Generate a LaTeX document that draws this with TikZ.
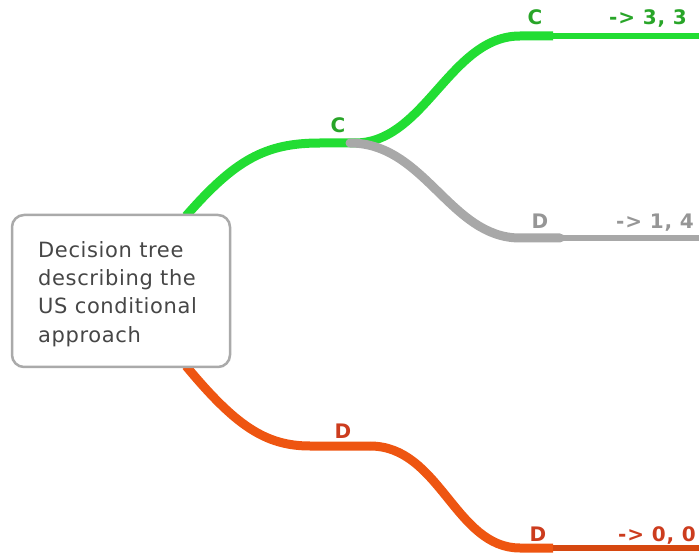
\documentclass[tikz,border=0pt]{standalone}
\usepackage{fontspec}
\setmainfont{DejaVu Sans}
\newfontfamily\boxfont[LetterSpace=3]{DejaVu Sans}
\newfontfamily\lblfont[LetterSpace=4]{DejaVu Sans Bold}
\definecolor{gline}{RGB}{34,221,51}
\definecolor{glbl}{RGB}{40,165,40}
\definecolor{yline}{RGB}{168,168,168}
\definecolor{ylbl}{RGB}{150,150,150}
\definecolor{oline}{RGB}{238,85,17}
\definecolor{othin}{RGB}{214,72,16}
\definecolor{olbl}{RGB}{204,60,30}
\definecolor{boxline}{RGB}{170,170,170}
\definecolor{boxtext}{RGB}{70,70,70}
\begin{document}
\begin{tikzpicture}[x=1pt,y=-1pt,
  branch/.style={line width=9pt},
  leaf/.style={line width=5.5pt},
  lbl/.style={font=\lblfont\fontsize{20}{20}\selectfont, anchor=base, inner sep=0pt}]
\useasboundingbox (0,0) rectangle (699,553);
% junction coordinates
\coordinate (g0) at (186,216);
\coordinate (c1a) at (320,143);
\coordinate (c1) at (355,143);
\coordinate (c1g) at (350,143);
\coordinate (c2a) at (520,36);
\coordinate (c2) at (553,36);
\coordinate (c2e) at (699,36);
\coordinate (d2a) at (520,238);
\coordinate (d2) at (560,238);
\coordinate (d2e) at (699,238);
\coordinate (o0) at (186,366);
\coordinate (d1a) at (310,446);
\coordinate (d1) at (370,446);
\coordinate (d3a) at (520,548);
\coordinate (d3) at (553,548);
\coordinate (d3e) at (699,548);
% green branches
\draw[branch, gline] (g0) .. controls (235,160) and (265,143) .. (c1a) -- (c1);
\draw[branch, gline] (c1) .. controls (425,143) and (450,36) .. (c2a) -- (c2);
\draw[leaf, gline] (c2) -- (c2e);
% gray branch
\draw[branch, yline, line cap=round] (c1g) .. controls (425,143) and (450,238) .. (d2a) -- (d2);
\draw[leaf, yline] (d2) -- (d2e);
% orange branches
\draw[branch, oline] (o0) .. controls (235,425) and (265,446) .. (d1a) -- (d1);
\draw[branch, oline] (d1) .. controls (440,446) and (455,548) .. (d3a) -- (d3);
\draw[leaf, othin] (d3) -- (d3e);
% root box
\node[draw=boxline, line width=2.5pt, rounded corners=12pt, fill=white,
      minimum width=218pt, minimum height=152pt, inner sep=0pt] (root) at (121,291) {};
\node[anchor=north west, align=left, inner sep=0pt, text=boxtext,
      font=\boxfont\fontsize{21}{28.3}\selectfont] (roottext) at (38,241)
  {Decision tree\\describing the\\US conditional\\approach};
% labels
\node[lbl, text=glbl] (lc1) at (338,133) {C};
\node[lbl, text=glbl] (lc2) at (535,25) {C};
\node[lbl, text=glbl] (r33) at (648,25) {-> 3, 3};
\node[lbl, text=ylbl] (ld2) at (540,229) {D};
\node[lbl, text=ylbl] (r14) at (655,229) {-> 1, 4};
\node[lbl, text=olbl] (ld1) at (343,438) {D};
\node[lbl, text=olbl] (ld3) at (538,541) {D};
\node[lbl, text=olbl] (r00) at (657,541) {-> 0, 0};
\end{tikzpicture}
\end{document}
